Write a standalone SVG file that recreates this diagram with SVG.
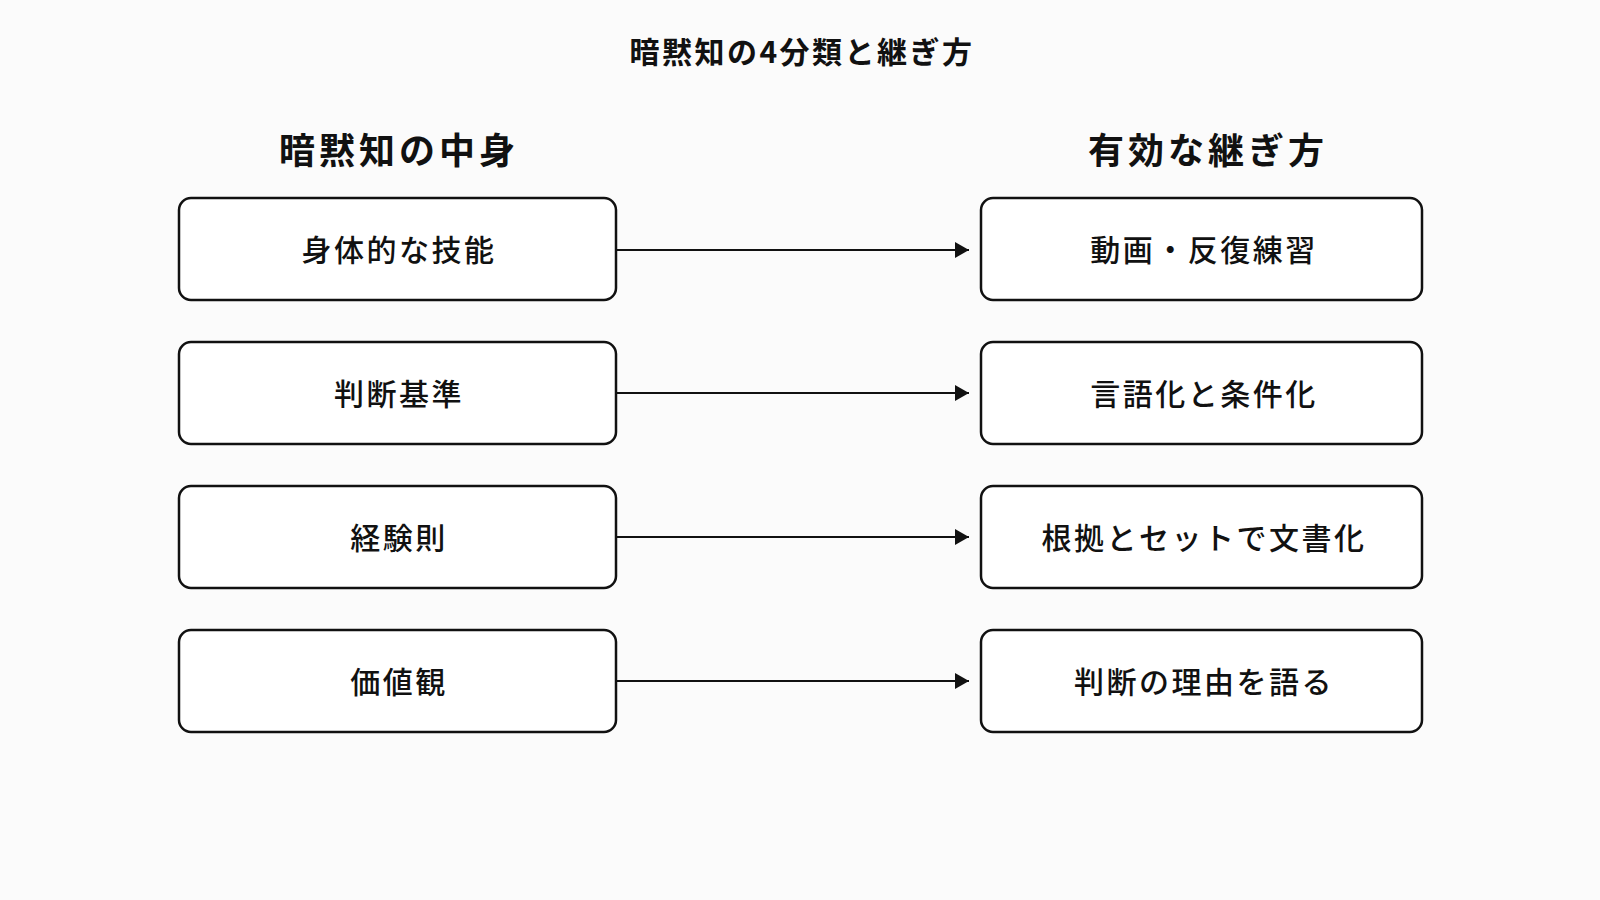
<svg xmlns="http://www.w3.org/2000/svg" width="1600" height="900" viewBox="0 0 1600 900">
<style>
text{font-family:"Noto Sans CJK JP","Noto Sans",sans-serif;fill:#111;text-anchor:middle}
.title{font-size:30px;font-weight:700;letter-spacing:2.5px}
.head{font-size:36px;font-weight:700;letter-spacing:4px}
.lbl{font-size:30px;font-weight:500;letter-spacing:2.5px}
.box{fill:#fff;stroke:#111;stroke-width:2.5}
.conn{stroke:#111;stroke-width:2;fill:none}
</style>
<defs>
<marker id="arr" viewBox="0 0 14 16" refX="14" refY="8" markerWidth="14" markerHeight="16" markerUnits="userSpaceOnUse" orient="auto">
<path d="M0,0 L14,8 L0,16 z" fill="#111"/>
</marker>
</defs>
<rect width="1600" height="900" fill="#fbfbfb"/>
<text class="title" x="802" y="63">暗黙知の4分類と継ぎ方</text>
<text class="head" x="399" y="164">暗黙知の中身</text>
<text class="head" x="1208" y="164">有効な継ぎ方</text>
<g id="connectors">
<line class="conn" x1="617" y1="250" x2="969" y2="250" marker-end="url(#arr)"/>
<line class="conn" x1="617" y1="393" x2="969" y2="393" marker-end="url(#arr)"/>
<line class="conn" x1="617" y1="537" x2="969" y2="537" marker-end="url(#arr)"/>
<line class="conn" x1="617" y1="681" x2="969" y2="681" marker-end="url(#arr)"/>
</g>
<g id="l1"><rect class="box" x="179" y="198" width="437" height="102" rx="12"/><text class="lbl" x="399" y="248" dominant-baseline="central">身体的な技能</text></g>
<g id="l2"><rect class="box" x="179" y="342" width="437" height="102" rx="12"/><text class="lbl" x="399" y="392" dominant-baseline="central">判断基準</text></g>
<g id="l3"><rect class="box" x="179" y="486" width="437" height="102" rx="12"/><text class="lbl" x="399" y="536" dominant-baseline="central">経験則</text></g>
<g id="l4"><rect class="box" x="179" y="630" width="437" height="102" rx="12"/><text class="lbl" x="399" y="680" dominant-baseline="central">価値観</text></g>
<g id="r1"><rect class="box" x="981" y="198" width="441" height="102" rx="12"/><text class="lbl" x="1204" y="248" dominant-baseline="central">動画・反復練習</text></g>
<g id="r2"><rect class="box" x="981" y="342" width="441" height="102" rx="12"/><text class="lbl" x="1204" y="392" dominant-baseline="central">言語化と条件化</text></g>
<g id="r3"><rect class="box" x="981" y="486" width="441" height="102" rx="12"/><text class="lbl" x="1204" y="536" dominant-baseline="central">根拠とセットで文書化</text></g>
<g id="r4"><rect class="box" x="981" y="630" width="441" height="102" rx="12"/><text class="lbl" x="1204" y="680" dominant-baseline="central">判断の理由を語る</text></g>
</svg>
